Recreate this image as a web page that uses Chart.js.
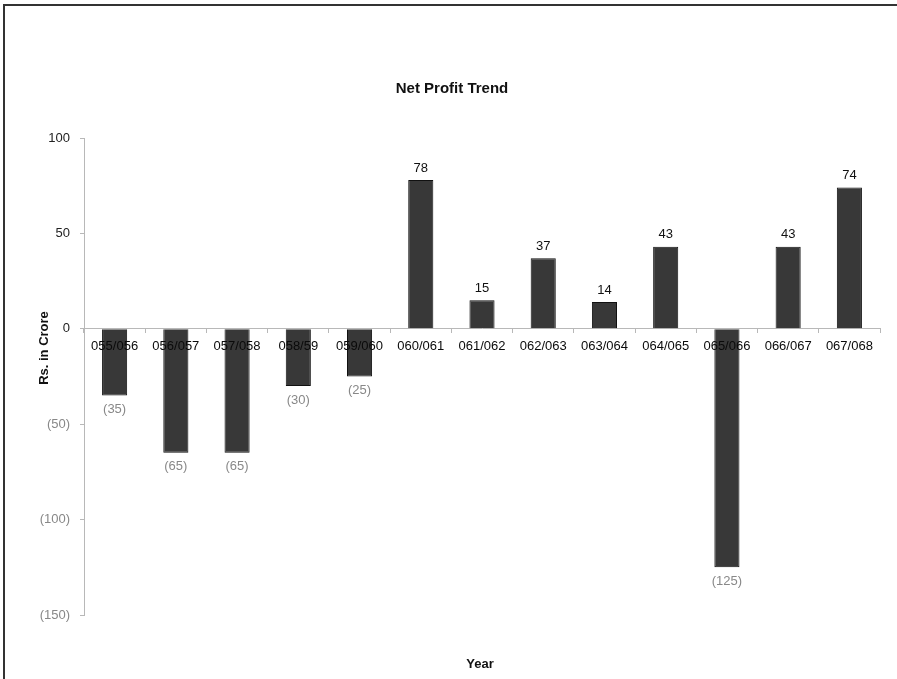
<!DOCTYPE html>
<html>
<head>
<meta charset="utf-8">
<script src="https://cdn.jsdelivr.net/npm/chart.js@4.4.0/dist/chart.umd.min.js"></script>
<style>
  html, body { margin:0; padding:0; background:#fff; }
  #wrap { position:relative; width:897px; height:679px; }
  #frame { position:absolute; left:3px; top:4px; right:0; bottom:0;
           border-top:2px solid #333; border-left:2px solid #333; pointer-events:none; }
  canvas { display:block; }
</style>
</head>
<body>
<div id="wrap">
  <canvas id="chart" width="897" height="679"></canvas>
  <div id="frame"></div>
</div>
<script>
/* ── DATA ─────────────────────────────────────────────── */
const years  = ['055/056','056/057','057/058','058/59','059/060','060/061','061/062',
                '062/063','063/064','064/065','065/066','066/067','067/068'];
const profit = [-35, -65, -65, -30, -25, 78, 15, 37, 14, 43, -125, 43, 74];

const chartTitle = 'Net Profit Trend';
const xTitle     = 'Year';
const yTitle     = 'Rs. in Crore';

const FONT = 'Arial, "Liberation Sans", Helvetica, sans-serif';

const fmt = v => v < 0 ? '(' + Math.abs(v) + ')' : String(v);

/* ── TEXT + VALUE LABELS ──────────────────────────────── */
const textPlugin = {
  id: 'texts',
  afterDatasetsDraw(chart) {
    const ctx = chart.ctx;
    ctx.save();
    ctx.textAlign = 'center';
    ctx.textBaseline = 'middle';

    // value labels
    const meta = chart.getDatasetMeta(0);
    ctx.font = '13px ' + FONT;
    meta.data.forEach((bar, i) => {
      const v = profit[i];
      if (v >= 0) {
        ctx.fillStyle = '#111';
        ctx.fillText(fmt(v), bar.x, bar.y - 12);
      } else {
        ctx.fillStyle = '#888';
        ctx.fillText(fmt(v), bar.x, bar.y + 14);
      }
    });

    // titles
    ctx.fillStyle = '#111';
    ctx.font = 'bold 15px ' + FONT;
    ctx.fillText(chartTitle, 452, 89);
    ctx.font = 'bold 13px ' + FONT;
    ctx.fillText(xTitle, 480, 664);
    ctx.translate(44, 348);
    ctx.rotate(-Math.PI / 2);
    ctx.fillText(yTitle, 0, 0);
    ctx.restore();
  }
};

new Chart(document.getElementById('chart'), {
  type: 'bar',
  data: {
    labels: years,
    datasets: [{
      data: profit,
      backgroundColor: '#383838',
      borderColor: '#111111',
      borderWidth: 1,
      barPercentage: 0.41,
      categoryPercentage: 1.0,
    }],
  },
  options: {
    responsive: false, animation: false,
    layout: { padding: { left: 0, top: 138, right: 17, bottom: 64 } },
    plugins: { legend: { display:false }, tooltip: { enabled:false }, title: { display:false } },
    scales: {
      x: {
        position: { y: 0 },
        offset: true,
        grid: { offset: true, drawOnChartArea: false, drawTicks: true, tickLength: 4, color: '#b8b8b8' },
        border: { display: true, color: '#b8b8b8' },
        // z > 0 so the year labels are painted over the bars, as in the original
        ticks: { z: 1, color: '#0a0a0a', padding: 6, maxRotation: 0, autoSkip: false, font: { family: FONT, size: 13 } },
      },
      y: {
        min: -150, max: 100,
        afterFit: s => { s.width = 84; },
        grid: { drawOnChartArea: false, drawTicks: true, tickLength: 4, color: '#b8b8b8' },
        border: { display: true, color: '#b8b8b8' },
        ticks: {
          stepSize: 50, padding: 10,
          color: c => c.tick && c.tick.value < 0 ? '#888' : '#222',
          font: { family: FONT, size: 13 },
          callback: v => fmt(v),
        },
      },
    },
  },
  plugins: [textPlugin],
});
</script>
</body>
</html>
